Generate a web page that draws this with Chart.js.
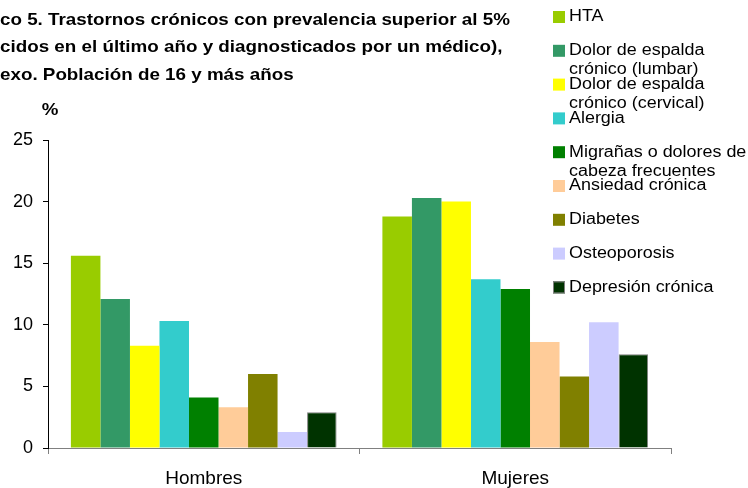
<!DOCTYPE html>
<html lang="es">
<head>
<meta charset="utf-8">
<title>Trastornos crónicos por sexo</title>
<script src="https://cdn.jsdelivr.net/npm/chart.js@4/dist/chart.umd.min.js"></script>
<style>
    html, body { margin: 0; padding: 0; background: #ffffff; }
    #wrap { position: relative; width: 748px; height: 488px; }
</style>
</head>
<body>
<div id="wrap"><canvas id="cronicosChart"></canvas></div>
<script>
/*
  Trastornos crónicos con prevalencia superior al 5%, por sexo
  Chart.js v4
*/

const categorias = ["Hombres", "Mujeres"];

const hta = [15.6, 18.8];
const dolorLumbar = [12.1, 20.3];
const dolorCervical = [8.3, 20.0];
const alergia = [10.3, 13.7];
const migranas = [4.1, 12.9];
const ansiedad = [3.3, 8.6];
const diabetes = [6.0, 5.8];
const osteoporosis = [1.3, 10.2];
const depresion = [2.9, 7.6];

const tituloLineas = [
    "co 5. Trastornos crónicos con prevalencia superior al 5%",
    "cidos en el último año y diagnosticados por un médico),",
    "exo. Población de 16 y más años"
];

const unidad = "%";

const FONT = "'Liberation Sans', Arial, sans-serif";

document.addEventListener("DOMContentLoaded", () => {

    initializeChart();

});

function serie(lineas, valores, color, borde) {

    return {
        label: lineas.join(" "),
        lineas: lineas,
        data: valores,
        backgroundColor: color,
        borderColor: borde || color,
        borderWidth: borde ? 1 : 0
    };

}

// el texto del original sale algo ensanchado en horizontal
function textoAncho(ctx, texto, x, y, sx) {

    ctx.save();
    ctx.translate(x, y);
    ctx.scale(sx, 1);
    ctx.fillText(texto, 0, 0);
    ctx.restore();

}

// titulo, "%" y leyenda dibujados a mano (la leyenda original se solapa)
const decoracion = {

    id: "decoracion",

    afterDraw(chart) {

        const ctx = chart.ctx;

        ctx.save();

        ctx.fillStyle = "#000000";
        ctx.textAlign = "left";
        ctx.textBaseline = "middle";
        ctx.font = "bold 17px " + FONT;

        tituloLineas.forEach((linea, i) => {
            textoAncho(ctx, linea, 0, 20 + i * 27.5, 1.106);
        });

        ctx.textAlign = "center";
        textoAncho(ctx, unidad, 50, 110, 1.1);

        ctx.font = "16px " + FONT;
        ctx.textAlign = "left";

        chart.data.datasets.forEach((ds, i) => {

            const y = 17 + i * 33.8;

            ctx.fillStyle = ds.backgroundColor;
            ctx.fillRect(553, y - 6, 12, 12);

            if (ds.borderWidth) {
                ctx.strokeStyle = ds.borderColor;
                ctx.lineWidth = 1;
                ctx.strokeRect(553.5, y - 5.5, 11, 11);
            }

            ctx.fillStyle = "#000000";

            ds.lineas.forEach((t, j) => {
                textoAncho(ctx, t, 569, y + j * 19, 1.12);
            });

        });

        ctx.restore();

    }

};

function initializeChart() {

    const canvas = document.getElementById("cronicosChart");

    if (!canvas) {

        return;

    }

    new Chart(canvas, {

        type: "bar",

        data: {

            labels: categorias,

            datasets: [
                serie(["HTA"], hta, "#99CC00"),
                serie(["Dolor de espalda", "crónico (lumbar)"], dolorLumbar, "#339966"),
                serie(["Dolor de espalda", "crónico (cervical)"], dolorCervical, "#FFFF00"),
                serie(["Alergia"], alergia, "#33CCCC"),
                serie(["Migrañas o dolores de", "cabeza frecuentes"], migranas, "#008000"),
                serie(["Ansiedad crónica"], ansiedad, "#FFCC99"),
                serie(["Diabetes"], diabetes, "#808000"),
                serie(["Osteoporosis"], osteoporosis, "#CCCCFF"),
                serie(["Depresión crónica"], depresion, "#003300", "#808080")
            ]

        },

        options: {

            responsive: true,

            maintainAspectRatio: false,

            animation: false,

            layout: {

                padding: { top: 140, right: 77, bottom: 0, left: 0 }

            },

            datasets: {

                bar: {

                    categoryPercentage: 0.853,

                    barPercentage: 1.0

                }

            },

            plugins: {

                legend: { display: false },

                title: { display: false },

                tooltip: { enabled: true }

            },

            scales: {

                x: {

                    afterFit(scale) { scale.height = 40; },

                    grid: {
                        drawOnChartArea: false,
                        offset: true,
                        tickLength: 6,
                        color: "#808080"
                    },

                    border: { color: "#808080", width: 1 },

                    ticks: {
                        color: "#000000",
                        padding: 13,
                        font: { family: FONT, size: 19 }
                    }

                },

                y: {

                    min: 0,

                    max: 25,

                    afterFit(scale) { scale.width = 48; },

                    grid: {
                        drawOnChartArea: false,
                        tickLength: 5,
                        color: "#000000"
                    },

                    border: { color: "#000000", width: 1 },

                    ticks: {
                        stepSize: 5,
                        color: "#000000",
                        padding: 10,
                        font: { family: FONT, size: 18 }
                    }

                }

            }

        },

        plugins: [decoracion]

    });

}
</script>
</body>
</html>
